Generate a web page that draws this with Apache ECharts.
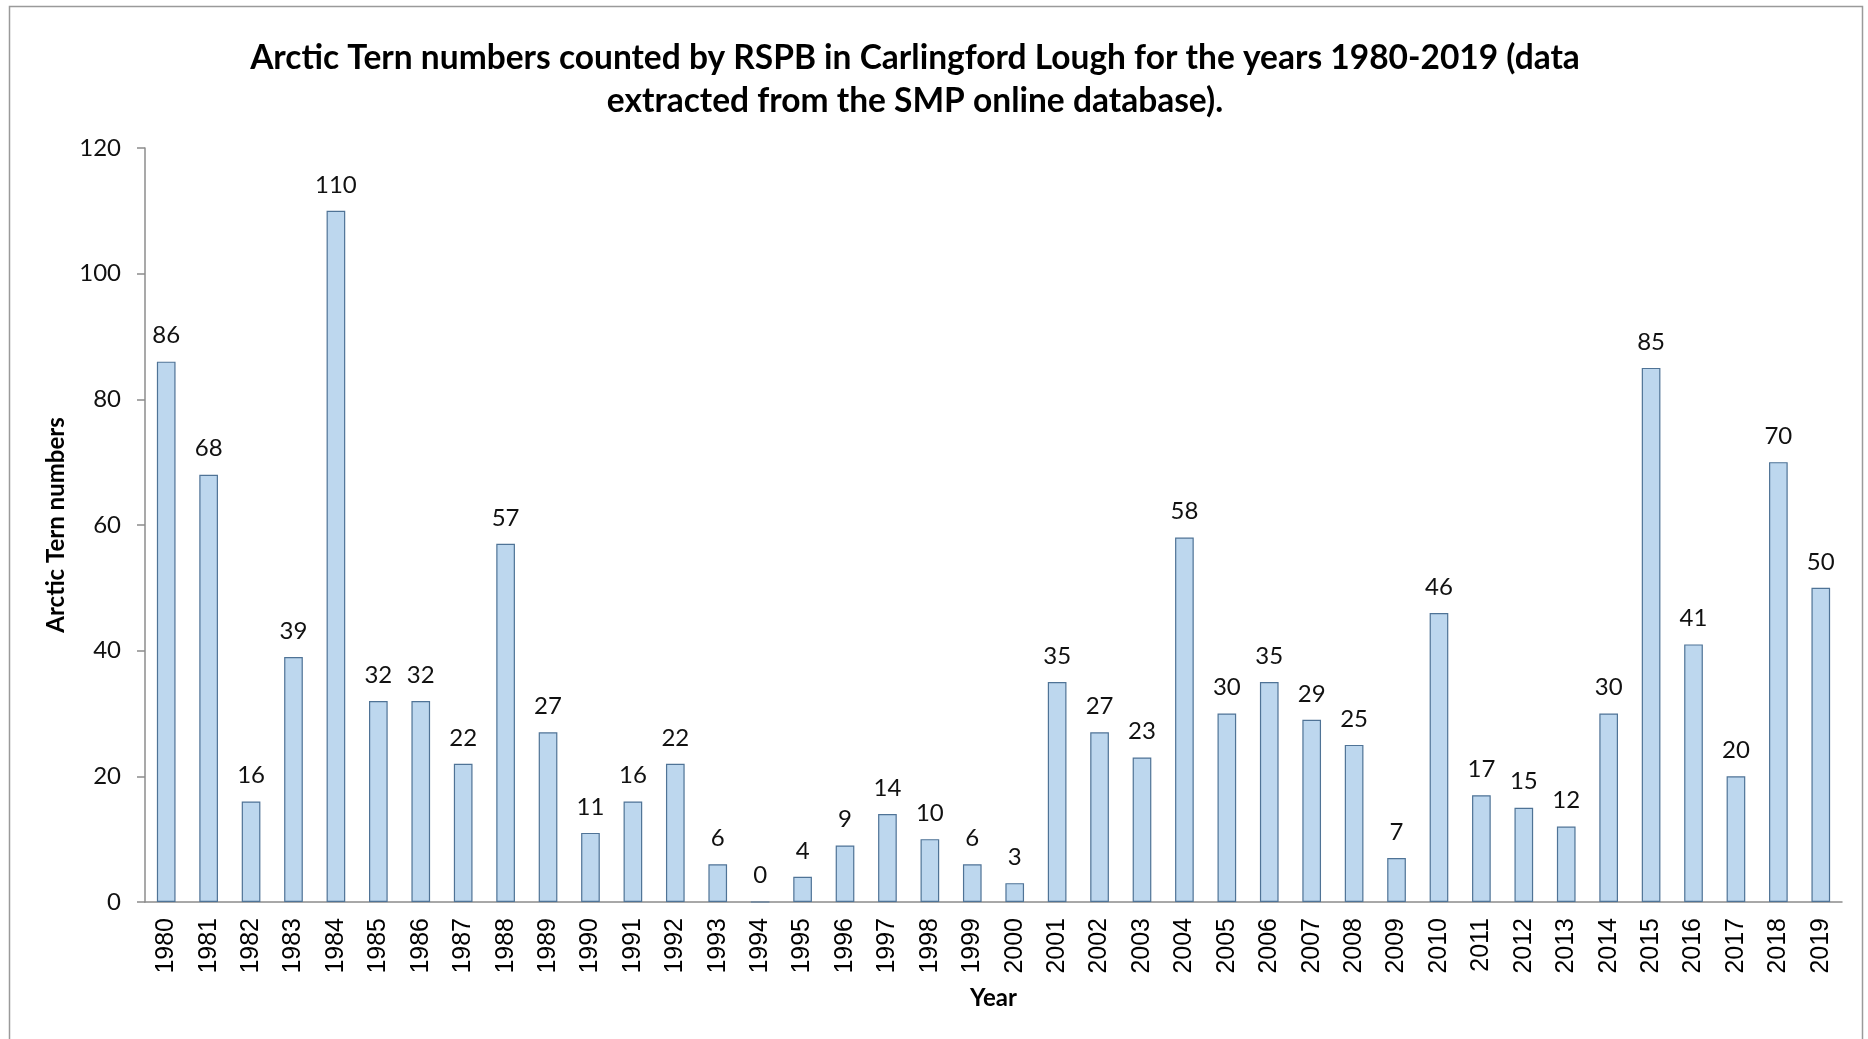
<!DOCTYPE html>
<html>
<head>
<meta charset="utf-8">
<title>Arctic Tern numbers, Carlingford Lough 1980-2019</title>
<script src="https://cdn.jsdelivr.net/npm/echarts@6/dist/echarts.min.js"></script>
<style>
  html, body { margin: 0; padding: 0; background: #ffffff; }
  #chart { width: 1868px; height: 1039px; }
</style>
</head>
<body>
<div id="chart"></div>
<script>
// Survey years (category axis)
const years = [
  '1980','1981','1982','1983','1984','1985','1986','1987','1988','1989',
  '1990','1991','1992','1993','1994','1995','1996','1997','1998','1999',
  '2000','2001','2002','2003','2004','2005','2006','2007','2008','2009',
  '2010','2011','2012','2013','2014','2015','2016','2017','2018','2019'
];

// Arctic Tern counts per year
const ternCounts = [
  86, 68, 16, 39, 110, 32, 32, 22, 57, 27,
  11, 16, 22, 6, 0, 4, 9, 14, 10, 6,
  3, 35, 27, 23, 58, 30, 35, 29, 25, 7,
  46, 17, 15, 12, 30, 85, 41, 20, 70, 50
];

// Value axis range
const yMin = 0;
const yMax = 120;
const yStep = 20;

const titleText = 'Arctic Tern numbers counted by RSPB in Carlingford Lough for the years 1980-2019 (data\nextracted from the SMP online database).';

const chart = echarts.init(document.getElementById('chart'), null, { renderer: 'canvas' });

const axisGrey = '#8c8c8c';
const textFont = 'Lato, "Open Sans", sans-serif';

chart.setOption({
  backgroundColor: '#ffffff',
  animation: false,
  title: {
    text: titleText,
    left: 910,
    top: 32,
    textAlign: 'center',
    textStyle: {
      fontFamily: textFont,
      fontWeight: 'bold',
      fontSize: 33.5,
      lineHeight: 43,
      color: '#000000'
    }
  },
  graphic: [{
    type: 'rect',
    shape: { x: 9.5, y: 6.5, width: 1853, height: 1040 },
    style: { fill: 'none', stroke: '#9a9a9a', lineWidth: 1.5 },
    silent: true,
    z: -1
  }],
  grid: {
    left: 145,
    right: 26,
    top: 148,
    bottom: 137,
    containLabel: false
  },
  xAxis: {
    type: 'category',
    data: years,
    name: 'Year',
    nameLocation: 'middle',
    nameGap: 84,
    nameTextStyle: {
      fontFamily: textFont,
      fontWeight: 'bold',
      fontSize: 24,
      color: '#000000'
    },
    axisLine: { show: true, lineStyle: { color: axisGrey, width: 1.5 } },
    axisTick: { show: false },
    axisLabel: {
      rotate: 90,
      margin: 16,
      interval: 0,
      fontFamily: '"Liberation Sans", Arial, sans-serif',
      fontSize: 25,
      color: '#000000'
    },
    splitLine: { show: false }
  },
  yAxis: {
    type: 'value',
    min: yMin,
    max: yMax,
    interval: yStep,
    name: 'Arctic Tern numbers',
    nameLocation: 'middle',
    nameGap: 74,
    nameRotate: 90,
    nameTextStyle: {
      fontFamily: textFont,
      fontWeight: 'bold',
      fontSize: 24,
      color: '#000000'
    },
    axisLine: { show: true, lineStyle: { color: axisGrey, width: 1.5 } },
    axisTick: { show: true, inside: false, length: 8, lineStyle: { color: axisGrey, width: 1.5 } },
    axisLabel: {
      margin: 24,
      fontFamily: textFont,
      fontSize: 24,
      color: '#111111'
    },
    splitLine: { show: false }
  },
  series: [{
    type: 'bar',
    data: ternCounts,
    barWidth: '44%',
    itemStyle: {
      color: '#bdd7ee',
      borderColor: '#4f7396',
      borderWidth: 1.2
    },
    label: {
      show: true,
      position: 'top',
      distance: 14,
      fontFamily: textFont,
      fontSize: 24,
      color: '#111111'
    }
  }]
});
</script>
</body>
</html>
